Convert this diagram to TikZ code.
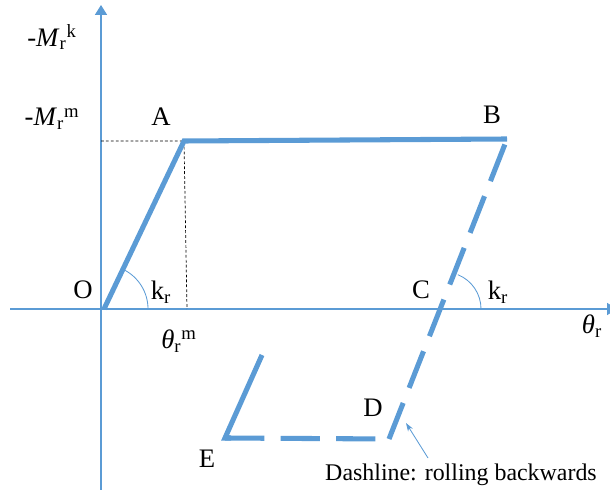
\documentclass[tikz,border=0pt]{standalone}
\usepackage{fontspec}
\setmainfont{Liberation Serif}
\usepackage{amsmath}
\usetikzlibrary{arrows.meta}
\definecolor{lineblue}{HTML}{5B9BD5}

\begin{document}
\begin{tikzpicture}[x=0.025cm,y=-0.025cm,
  axis/.style={lineblue, line width=0.9pt},
  curve/.style={lineblue, line width=3.6pt},
  dashcurve/.style={curve, dash pattern=on 28pt off 11.5pt},
  guide/.style={black, line width=0.5pt, dash pattern=on 2pt off 1.5pt},
  lbl/.style={font=\fontsize{19}{21}\selectfont, inner sep=0pt}]
\useasboundingbox (0,0) rectangle (610,490);

% axes
\coordinate (xl) at (10,309);
\coordinate (xr) at (617,309);
\coordinate (yb) at (101,490);
\coordinate (yt) at (101,5);
\draw[axis, -{Triangle[length=7pt,width=8.5pt]}] (xl) -- (xr);
\draw[axis, -{Triangle[length=7pt,width=8.5pt]}] (yb) -- (yt);

% corner points of the loop
\coordinate (O) at (104,309);
\coordinate (A) at (184,141);
\coordinate (B) at (507,139);
\coordinate (C) at (444,309);
\coordinate (D) at (389,439);
\coordinate (E) at (225,438);
\coordinate (F) at (262,355);
\coordinate (yA) at (101,141);
\coordinate (xA) at (187,309);

\draw[guide] (yA) -- (A) -- (xA);
\draw[curve, line join=miter] (O) -- (A) -- (B);
\draw[dashcurve, dash phase=35.3pt] (B) -- (D);
\draw[curve, line join=miter] (F) -- (E) -- ++(6,0);
\draw[dashcurve] (E) -- (D);

% stiffness angles
\draw[lineblue, line width=0.6pt] ([xshift=1.1cm]O) arc[start angle=0, end angle=65, radius=1.1cm];
\draw[lineblue, line width=0.6pt] ([xshift=0.925cm]C) arc[start angle=0, end angle=68, radius=0.925cm];

% labels
\node[lbl](Mk) at (52,37) {-\textit{M}\textsubscript{r}\textsuperscript{k}};
\node[lbl](Mm) at (52,119) {-\textit{M}\textsubscript{r}\textsuperscript{m}};
\node[lbl](la) at (161,117) {A};
\node[lbl](lb) at (492,115) {B};
\node[lbl](lo) at (83,290) {O};
\node[lbl](lc) at (421,290) {C};
\node[lbl](ld) at (373,408) {D};
\node[lbl](le) at (207,459) {E};
\node[lbl](k1) at (161,292) {k\textsubscript{r}};
\node[lbl](k2) at (498,292) {k\textsubscript{r}};
\node[lbl](tm) at (179,341) {\textit{θ}\textsubscript{r}\textsuperscript{m}};
\node[lbl](tr) at (592,326) {\textit{θ}\textsubscript{r}};

\coordinate (tail) at (428,458);
\coordinate (tip) at (406,423);
\draw[lineblue, line width=0.6pt, -{Stealth[length=6pt,width=4pt]}] (tail) -- (tip);
\node[font=\fontsize{17}{19}\selectfont, inner sep=0pt](note) at (461,475) {Dashline: rolling backwards};

\end{tikzpicture}
\end{document}
